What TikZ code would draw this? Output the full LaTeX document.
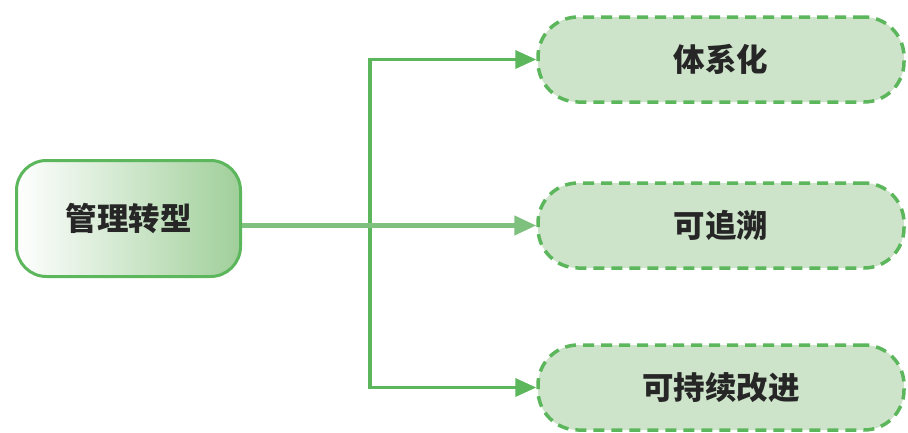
\documentclass[tikz,border=0pt]{standalone}
\usepackage{fontspec}
\newfontfamily\cjk{Noto Sans CJK SC}
\usepackage{tikz}
\usetikzlibrary{arrows.meta}

\definecolor{linegreen}{RGB}{92,182,92}
\definecolor{lightline}{RGB}{126,192,126}
\definecolor{boxfill}{RGB}{206,228,202}
\definecolor{gradend}{RGB}{160,207,154}
\definecolor{txt}{RGB}{38,38,38}

\tikzset{
  every node/.style={font=\cjk\bfseries\fontsize{31.5}{36}\selectfont, text=txt},
  mainbox/.style={draw=linegreen, line width=3pt, rounded corners=30pt,
    minimum width=224pt, minimum height=116pt,
    left color=white, right color=gradend},
  goalbox/.style={draw=linegreen, line width=3.5pt, dash pattern=on 11pt off 7pt,
    fill=boxfill, rounded corners=40pt, minimum width=366pt, minimum height=85pt},
  branch/.style={linegreen, line width=3.5pt, -{Triangle[length=21pt,width=18pt]}},
  trunk/.style={lightline, line width=4.5pt, -{Triangle[length=22pt,width=19pt]}}
}

\begin{document}
\begin{tikzpicture}[x=1pt,y=-1pt]
\useasboundingbox (0,0) rectangle (908,432);
\node[mainbox] (mgmt) at (128.5,218.5) {管理转型};
\node[goalbox] (sys) at (721,59.5) {体系化};
\node[goalbox] (trace) at (721,225.5) {可追溯};
\node[goalbox] (improve) at (721,387.5) {可持续改进};
\coordinate (split) at (370,225.5);
% side branches
\draw[branch] (split) |- (sys.west);
\draw[branch] (split) |- (improve.west);
% main arrow
\draw[trunk] (mgmt.east |- trace.west) -- (trace.west);
\end{tikzpicture}
\end{document}
